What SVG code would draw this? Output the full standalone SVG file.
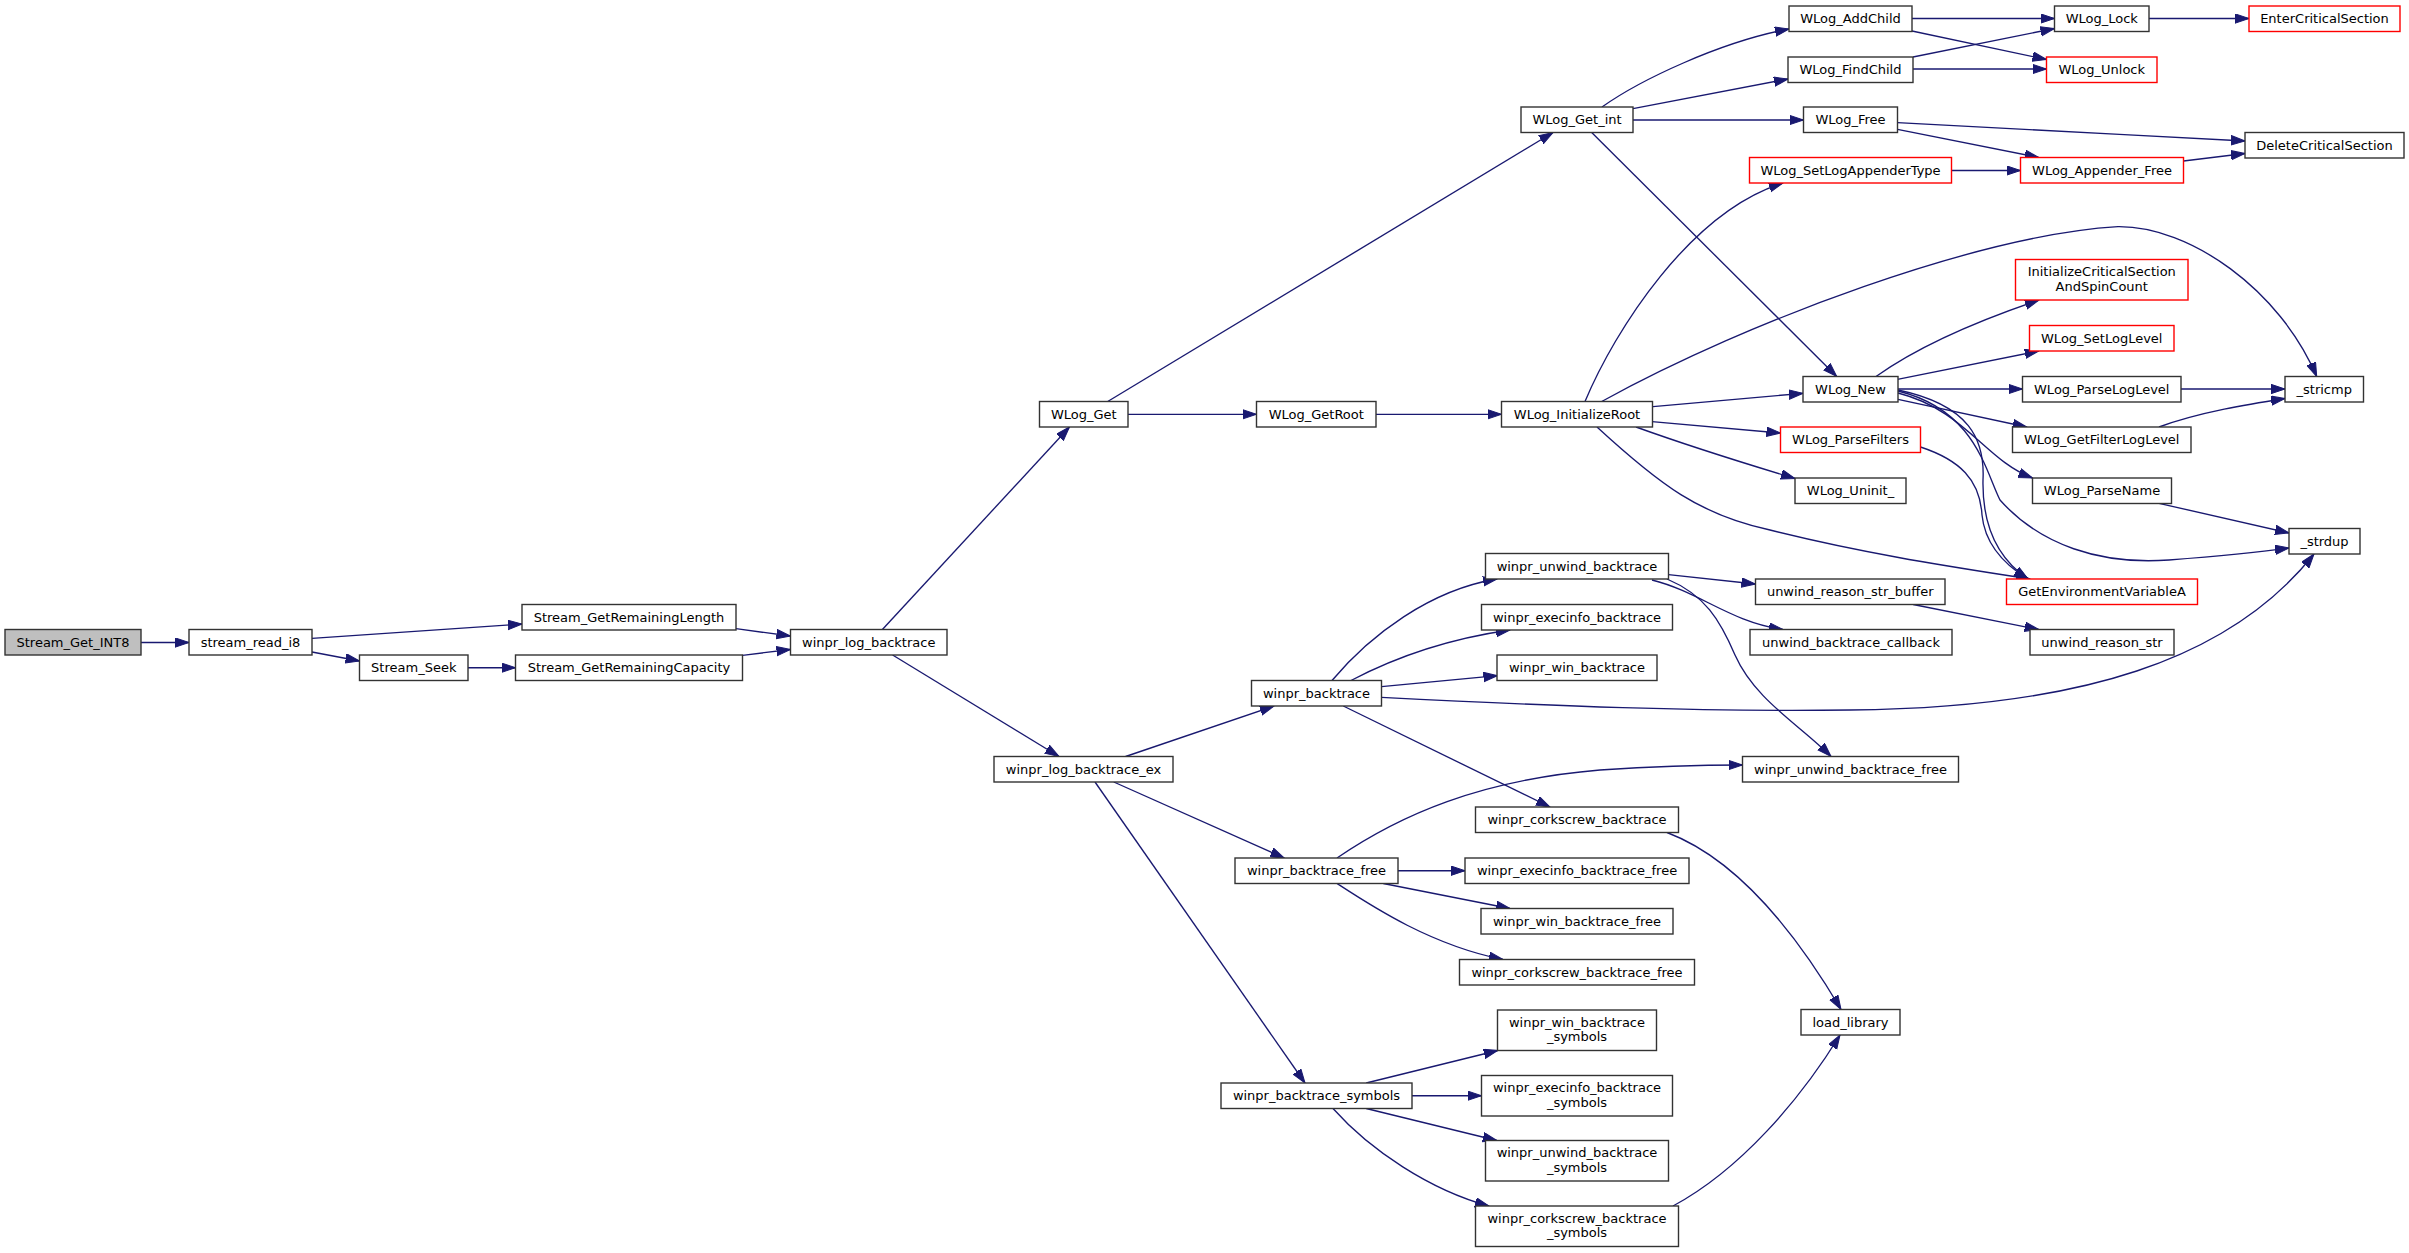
<svg xmlns="http://www.w3.org/2000/svg" width="2409" height="1253" viewBox="0 0 2409 1253">
<style>
.node rect{fill:#ffffff;stroke:#333333;stroke-width:1.4}
.node.red rect{stroke:#ff0000}
.node.start rect{fill:#bfbfbf}
.node text{font-family:"DejaVu Sans","Liberation Sans",sans-serif;font-size:13px;text-anchor:middle;fill:#000000}
.edges path{fill:none;stroke:#191970;stroke-width:1.35;marker-end:url(#arr)}
</style>
<defs>
<marker id="arr" markerUnits="userSpaceOnUse" markerWidth="16" markerHeight="12" refX="14" refY="5" orient="auto">
<path d="M0,0.3 L14,5 L0,9.7 z" fill="#191970" stroke="#191970" stroke-width="1"/>
</marker>
</defs>
<rect width="2409" height="1253" fill="#ffffff"/>
<g class="edges">
<path d="M141,642.5 L189,642.5"/>
<path d="M312,638.3 L522,624"/>
<path d="M312,652 L359.5,661"/>
<path d="M468,667.7 L515.5,667.7"/>
<path d="M736,628.7 L790.5,636"/>
<path d="M742.5,655.3 L790.5,649.5"/>
<path d="M882.4,629.5 L1069.5,427"/>
<path d="M892.6,655 L1059,756.5"/>
<path d="M1107.7,401.5 L1553,132.5"/>
<path d="M1128,414.3 L1256.5,414.3"/>
<path d="M1376,414.3 L1501.5,414.3"/>
<path d="M1602,107 C1640,80 1720,42 1789,29"/>
<path d="M1633,108.7 L1788,79"/>
<path d="M1633,120 L1803.5,120"/>
<path d="M1591.7,132.5 L1836.7,376.5"/>
<path d="M1912,18.5 L2054.5,18.5"/>
<path d="M1912,31 L2046.5,59.5"/>
<path d="M1913,57 L2054.5,28.5"/>
<path d="M1913,69 L2046.5,69"/>
<path d="M2149,18.5 L2249,18.5"/>
<path d="M1897.5,122.7 C2000,128 2130,135 2245,141"/>
<path d="M1897.5,129.3 L2038.7,157.5"/>
<path d="M1951.5,170.5 L2020.5,170.5"/>
<path d="M2183.5,161 L2245,153.5"/>
<path d="M1585,401.5 C1615,330 1690,212 1783,183"/>
<path d="M1601.7,401.5 C1750,320 1980,235 2118,226.7 C2190,226 2280,290 2316.7,376.5"/>
<path d="M1653,406.7 L1803,393.3"/>
<path d="M1652,421.7 L1780.5,433"/>
<path d="M1636,427 C1700,450 1750,465 1795,478.5"/>
<path d="M1597,427 C1660,485 1700,515 1770,530 C1870,555 1960,568 2030,579"/>
<path d="M1876,376.5 C1920,345 1980,320 2039,300"/>
<path d="M1897.5,379.3 L2038.7,351"/>
<path d="M1898,389 L2022.5,389"/>
<path d="M1898,399.3 L2026.7,427"/>
<path d="M1898,393 C1965,410 1985,460 2032.5,478"/>
<path d="M1898,391 C1975,410 1985,470 2000,500 C2040,545 2100,565 2169,560 C2220,556 2260,552 2289,548"/>
<path d="M1898,390 C1970,405 1985,440 1983,480 C1982,530 2000,560 2028,579"/>
<path d="M1920.5,447 C1960,460 1980,480 1982,515 C1985,545 2005,565 2028,579"/>
<path d="M2181,389 L2285,389"/>
<path d="M2159,427 C2200,412 2250,404 2285,398.5"/>
<path d="M2159,503.3 L2289,533"/>
<path d="M1125.6,756.5 L1274,706"/>
<path d="M1113.8,782 L1284.3,858"/>
<path d="M1095,782 L1305,1083"/>
<path d="M1332,680.5 C1370,635 1430,590 1497,579"/>
<path d="M1351,680.5 C1390,660 1440,640 1510,630"/>
<path d="M1381.5,686.7 L1497.5,675.7"/>
<path d="M1381.5,697.3 C1550,706 1700,712 1850,710 C2080,708 2230,660 2314,554"/>
<path d="M1343.3,706 L1550,807"/>
<path d="M1668.5,574.7 L1755.5,584"/>
<path d="M1652,580 C1700,592 1730,622 1783,629.5"/>
<path d="M1667,579 C1705,595 1720,620 1735,655 C1755,700 1800,725 1831,756.5"/>
<path d="M1913.2,604.5 L2038.7,629.5"/>
<path d="M1667,832.5 C1740,860 1800,940 1841,1009.5"/>
<path d="M1337,858 C1400,815 1480,780 1600,770 C1660,766 1700,765 1742.5,765"/>
<path d="M1398,870.7 L1465,870.7"/>
<path d="M1383.3,883.5 L1510,908.5"/>
<path d="M1337,883.5 C1370,905 1430,945 1503,959.5"/>
<path d="M1366.2,1083 L1497.8,1050.5"/>
<path d="M1412,1095.7 L1481.5,1095.7"/>
<path d="M1366.2,1108.5 L1496.8,1140.5"/>
<path d="M1333,1108.5 C1370,1150 1430,1190 1489,1206"/>
<path d="M1673,1206 C1740,1170 1800,1100 1840,1035"/>
</g>
<g id="n_Stream_Get_INT8" class="node start"><rect x="5" y="629.5" width="136" height="25.5"/><text x="73" y="646.5">Stream_Get_INT8</text></g>
<g id="n_stream_read_i8" class="node"><rect x="189" y="629.5" width="123" height="25.5"/><text x="250.5" y="646.5">stream_read_i8</text></g>
<g id="n_Stream_GetRemainingLength" class="node"><rect x="522" y="604.5" width="214" height="25.5"/><text x="629" y="621.5">Stream_GetRemainingLength</text></g>
<g id="n_Stream_Seek" class="node"><rect x="359.5" y="655" width="108.5" height="25.5"/><text x="413.75" y="672">Stream_Seek</text></g>
<g id="n_Stream_GetRemainingCapacity" class="node"><rect x="515.5" y="655" width="227" height="25.5"/><text x="629" y="672">Stream_GetRemainingCapacity</text></g>
<g id="n_winpr_log_backtrace" class="node"><rect x="790.5" y="629.5" width="156.5" height="25.5"/><text x="868.75" y="646.5">winpr_log_backtrace</text></g>
<g id="n_WLog_Get" class="node"><rect x="1039.5" y="401.5" width="88.5" height="25.5"/><text x="1083.75" y="418.5">WLog_Get</text></g>
<g id="n_WLog_GetRoot" class="node"><rect x="1256.5" y="401.5" width="119.5" height="25.5"/><text x="1316.25" y="418.5">WLog_GetRoot</text></g>
<g id="n_WLog_InitializeRoot" class="node"><rect x="1501.5" y="401.5" width="151" height="25.5"/><text x="1577" y="418.5">WLog_InitializeRoot</text></g>
<g id="n_WLog_Get_int" class="node"><rect x="1521" y="107" width="112" height="25.5"/><text x="1577" y="124">WLog_Get_int</text></g>
<g id="n_WLog_AddChild" class="node"><rect x="1789" y="6" width="123" height="25.5"/><text x="1850.5" y="23">WLog_AddChild</text></g>
<g id="n_WLog_FindChild" class="node"><rect x="1788" y="57" width="125" height="25.5"/><text x="1850.5" y="74">WLog_FindChild</text></g>
<g id="n_WLog_Free" class="node"><rect x="1803.5" y="107" width="94" height="25.5"/><text x="1850.5" y="124">WLog_Free</text></g>
<g id="n_WLog_SetLogAppenderType" class="node red"><rect x="1749.5" y="157.5" width="202" height="25.5"/><text x="1850.5" y="174.5">WLog_SetLogAppenderType</text></g>
<g id="n_WLog_Lock" class="node"><rect x="2054.5" y="6" width="94.5" height="25.5"/><text x="2101.75" y="23">WLog_Lock</text></g>
<g id="n_WLog_Unlock" class="node red"><rect x="2046.5" y="57" width="110.5" height="25.5"/><text x="2101.75" y="74">WLog_Unlock</text></g>
<g id="n_EnterCriticalSection" class="node red"><rect x="2249" y="6" width="151" height="25.5"/><text x="2324.5" y="23">EnterCriticalSection</text></g>
<g id="n_DeleteCriticalSection" class="node"><rect x="2245" y="132.5" width="159" height="25.5"/><text x="2324.5" y="149.5">DeleteCriticalSection</text></g>
<g id="n_WLog_Appender_Free" class="node red"><rect x="2020.5" y="157.5" width="163" height="25.5"/><text x="2102" y="174.5">WLog_Appender_Free</text></g>
<g id="n_InitializeCriticalSectionAndSpinCount" class="node red"><rect x="2015.5" y="259.5" width="172.5" height="40.5"/><text x="2101.75" y="276">InitializeCriticalSection</text><text x="2101.75" y="290.5">AndSpinCount</text></g>
<g id="n_WLog_SetLogLevel" class="node red"><rect x="2029.5" y="325.5" width="144.5" height="25.5"/><text x="2101.75" y="342.5">WLog_SetLogLevel</text></g>
<g id="n_WLog_New" class="node"><rect x="1803" y="376.5" width="95" height="25.5"/><text x="1850.5" y="393.5">WLog_New</text></g>
<g id="n_WLog_ParseLogLevel" class="node"><rect x="2022.5" y="376.5" width="158.5" height="25.5"/><text x="2101.75" y="393.5">WLog_ParseLogLevel</text></g>
<g id="n__stricmp" class="node"><rect x="2285" y="376.5" width="78.5" height="25.5"/><text x="2324.25" y="393.5">_stricmp</text></g>
<g id="n_WLog_ParseFilters" class="node red"><rect x="1780.5" y="427" width="140" height="25.5"/><text x="1850.5" y="444">WLog_ParseFilters</text></g>
<g id="n_WLog_GetFilterLogLevel" class="node"><rect x="2012.5" y="427" width="178.5" height="25.5"/><text x="2101.75" y="444">WLog_GetFilterLogLevel</text></g>
<g id="n_WLog_Uninit_" class="node"><rect x="1795" y="478" width="111" height="25.5"/><text x="1850.5" y="495">WLog_Uninit_</text></g>
<g id="n_WLog_ParseName" class="node"><rect x="2032.5" y="478" width="139" height="25.5"/><text x="2102" y="495">WLog_ParseName</text></g>
<g id="n__strdup" class="node"><rect x="2289" y="528.5" width="71" height="25.5"/><text x="2324.5" y="545.5">_strdup</text></g>
<g id="n_GetEnvironmentVariableA" class="node red"><rect x="2006.5" y="579" width="191" height="25.5"/><text x="2102" y="596">GetEnvironmentVariableA</text></g>
<g id="n_winpr_unwind_backtrace" class="node"><rect x="1485.5" y="553.5" width="183" height="25.5"/><text x="1577" y="570.5">winpr_unwind_backtrace</text></g>
<g id="n_unwind_reason_str_buffer" class="node"><rect x="1755.5" y="579" width="189.5" height="25.5"/><text x="1850.25" y="596">unwind_reason_str_buffer</text></g>
<g id="n_winpr_execinfo_backtrace" class="node"><rect x="1481.5" y="604.5" width="191" height="25.5"/><text x="1577" y="621.5">winpr_execinfo_backtrace</text></g>
<g id="n_unwind_backtrace_callback" class="node"><rect x="1750" y="629.5" width="202" height="25.5"/><text x="1851" y="646.5">unwind_backtrace_callback</text></g>
<g id="n_unwind_reason_str" class="node"><rect x="2030" y="629.5" width="144" height="25.5"/><text x="2102" y="646.5">unwind_reason_str</text></g>
<g id="n_winpr_win_backtrace" class="node"><rect x="1497" y="655" width="160" height="25.5"/><text x="1577" y="672">winpr_win_backtrace</text></g>
<g id="n_winpr_backtrace" class="node"><rect x="1251.5" y="680.5" width="130" height="25.5"/><text x="1316.5" y="697.5">winpr_backtrace</text></g>
<g id="n_winpr_log_backtrace_ex" class="node"><rect x="994" y="756.5" width="179" height="25.5"/><text x="1083.5" y="773.5">winpr_log_backtrace_ex</text></g>
<g id="n_winpr_unwind_backtrace_free" class="node"><rect x="1742.5" y="756.5" width="216" height="25.5"/><text x="1850.5" y="773.5">winpr_unwind_backtrace_free</text></g>
<g id="n_winpr_corkscrew_backtrace" class="node"><rect x="1475.5" y="807" width="203" height="25.5"/><text x="1577" y="824">winpr_corkscrew_backtrace</text></g>
<g id="n_winpr_backtrace_free" class="node"><rect x="1235" y="858" width="163" height="25.5"/><text x="1316.5" y="875">winpr_backtrace_free</text></g>
<g id="n_winpr_execinfo_backtrace_free" class="node"><rect x="1465" y="858" width="224" height="25.5"/><text x="1577" y="875">winpr_execinfo_backtrace_free</text></g>
<g id="n_winpr_win_backtrace_free" class="node"><rect x="1481" y="908.5" width="192" height="25.5"/><text x="1577" y="925.5">winpr_win_backtrace_free</text></g>
<g id="n_winpr_corkscrew_backtrace_free" class="node"><rect x="1459.5" y="959.5" width="235" height="25.5"/><text x="1577" y="976.5">winpr_corkscrew_backtrace_free</text></g>
<g id="n_load_library" class="node"><rect x="1801" y="1009.5" width="99" height="25.5"/><text x="1850.5" y="1026.5">load_library</text></g>
<g id="n_winpr_win_backtrace_symbols" class="node"><rect x="1497.5" y="1010" width="159" height="40.5"/><text x="1577" y="1026.5">winpr_win_backtrace</text><text x="1577" y="1041">_symbols</text></g>
<g id="n_winpr_execinfo_backtrace_symbols" class="node"><rect x="1481.5" y="1075.5" width="191" height="40.5"/><text x="1577" y="1092">winpr_execinfo_backtrace</text><text x="1577" y="1106.5">_symbols</text></g>
<g id="n_winpr_backtrace_symbols" class="node"><rect x="1221" y="1083" width="191" height="25.5"/><text x="1316.5" y="1100">winpr_backtrace_symbols</text></g>
<g id="n_winpr_unwind_backtrace_symbols" class="node"><rect x="1485.5" y="1140.5" width="183" height="40.5"/><text x="1577" y="1157">winpr_unwind_backtrace</text><text x="1577" y="1171.5">_symbols</text></g>
<g id="n_winpr_corkscrew_backtrace_symbols" class="node"><rect x="1475.5" y="1206" width="203" height="40.5"/><text x="1577" y="1222.5">winpr_corkscrew_backtrace</text><text x="1577" y="1237">_symbols</text></g>
</svg>
